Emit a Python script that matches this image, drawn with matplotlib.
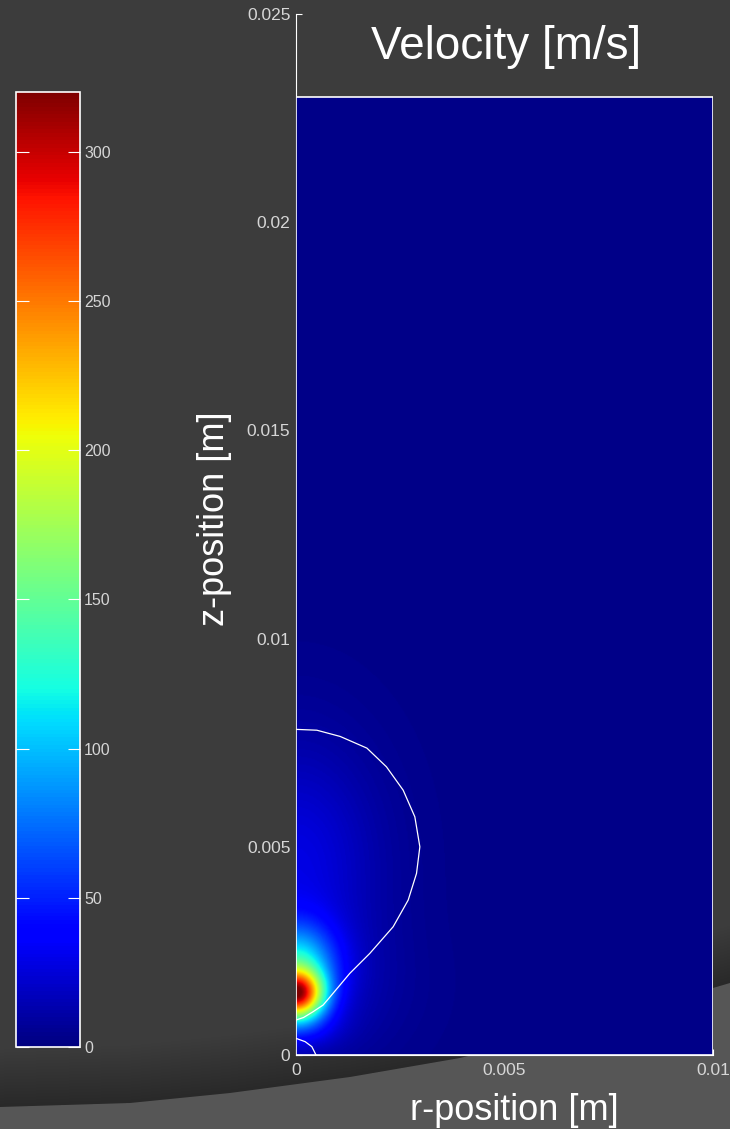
import numpy as np
import matplotlib.pyplot as plt
from matplotlib.patches import Rectangle

plt.rcParams['font.family'] = ['Liberation Sans', 'DejaVu Sans']

# dominio del campo [m]
r_max = 0.01
z_max = 0.023
z_lim = 0.025

# campo de velocidad: centro r, centro z [m], pico [m/s], ancho r, ancho z [m]
blob_r = [0.0, 0.0, 0.0, 0.0, 0.0]
blob_z = [0.00145, 0.0021, 0.0045, 0.0007, 0.0015]
blob_pico = [235., 100., 25., 25., 12.]
blob_wr = [0.00062, 0.0009, 0.0019, 0.0009, 0.0022]
blob_wz = [0.00055, 0.0010, 0.0029, 0.0005, 0.0016]
fondo = 3.
v_max = 320.

# contornos blancos (r, z) [m]
cont1_r = [0.0, 0.00050, 0.00106, 0.00170, 0.00217, 0.00257, 0.00285, 0.00297,
           0.00289, 0.00269, 0.00233, 0.00177, 0.00129, 0.00082, 0.00065,
           0.00041, 0.00018, 0.0]
cont1_z = [0.00782, 0.00780, 0.00765, 0.00737, 0.00692, 0.00636, 0.00572, 0.00500,
           0.00436, 0.00372, 0.00308, 0.00244, 0.00196, 0.00140, 0.00120,
           0.00104, 0.00090, 0.00084]
cont2_r = [0.0, 0.00022, 0.00038, 0.00048]
cont2_z = [0.00040, 0.00032, 0.00020, 0.0]

xticks = [0, 0.005, 0.01]
xtick_lab = ['0', '0.005', '0.01']
yticks = [0, 0.005, 0.01, 0.015, 0.02, 0.025]
ytick_lab = ['0', '0.005', '0.01', '0.015', '0.02', '0.025']
cb_ticks = [0, 50, 100, 150, 200, 250, 300]

# malla y campo
r = np.linspace(0, r_max, 400)
z = np.linspace(0, z_max, 920)
R, Z = np.meshgrid(r, z)
V = np.full(R.shape, fondo)
for rc, zc, p, wr, wz in zip(blob_r, blob_z, blob_pico, blob_wr, blob_wz):
    V += p * np.exp(-((R - rc) / wr) ** 2 - ((Z - zc) / wz) ** 2)

fig = plt.figure(figsize=(7.3, 11.29), dpi=100)
fig.patch.set_facecolor('#3c3c3c')

# fondo de la diapositiva (franja clara abajo con sombra)
bg = fig.add_axes([0, 0, 1, 1], zorder=-1)
bg.set_xlim(0, 730)
bg.set_ylim(1129, 0)
bg.axis('off')
sx = np.array([0, 130, 230, 350, 460, 600, 713, 730])
sy = np.array([1107, 1103, 1093, 1077, 1058, 1024, 988, 983])
for k in range(20):
    bg.fill_between(sx, sy - 3 * k, sy, color='black', alpha=0.014, lw=0)
bg.fill_between(sx, sy, 1129, color='#565656', lw=0)

# grafico principal
ax = fig.add_axes([296 / 730, 1 - 1055 / 1129, 417 / 730, 1041 / 1129])
ax.set_facecolor('none')
im = ax.imshow(V, cmap='jet', vmin=0, vmax=v_max, origin='lower',
               extent=[0, r_max, 0, z_max], aspect='auto', interpolation='bilinear',
               zorder=3)
ax.plot(cont1_r, cont1_z, color='white', lw=0.9, zorder=4)
ax.plot(cont2_r, cont2_z, color='white', lw=0.9, zorder=4)
ax.add_patch(Rectangle((0, 0), r_max, z_max, fill=False, ec='white', lw=1.2, zorder=5))
ax.set_xlim(0, r_max)
ax.set_ylim(0, z_lim)
for s in ['top', 'right']:
    ax.spines[s].set_visible(False)
for s in ['left', 'bottom']:
    ax.spines[s].set_color('white')
ax.set_xticks(xticks)
ax.set_xticklabels(xtick_lab)
ax.set_yticks(yticks)
ax.set_yticklabels(ytick_lab)
ax.tick_params(direction='in', length=4.5, colors='white', labelcolor='#d6d6d6',
               labelsize=12.5)
ax.tick_params(axis='x', pad=6)
ax.tick_params(axis='y', pad=4)

fig.text(506 / 730, 1 - 59 / 1129, 'Velocity [m/s]', color='white', fontsize=33,
         ha='center', va='baseline')
fig.text(514 / 730, 1 - 1120 / 1129, 'r-position [m]', color='white', fontsize=26,
         ha='center', va='baseline')
fig.text(214 / 730, 1 - 519 / 1129, 'z-position [m]', color='white', fontsize=26,
         ha='center', va='center', rotation=90)

# barra de color
cax = fig.add_axes([16 / 730, 1 - 1047 / 1129, 64 / 730, 955 / 1129])
cb = fig.colorbar(im, cax=cax, ticks=cb_ticks)
cb.outline.set_edgecolor('white')
cb.outline.set_linewidth(1.2)
cax.tick_params(direction='in', length=9, colors='white', labelcolor='#d6d6d6',
                labelsize=11.5, left=True, right=True, pad=3)

plt.savefig('out.png', dpi=100, facecolor=fig.get_facecolor())
